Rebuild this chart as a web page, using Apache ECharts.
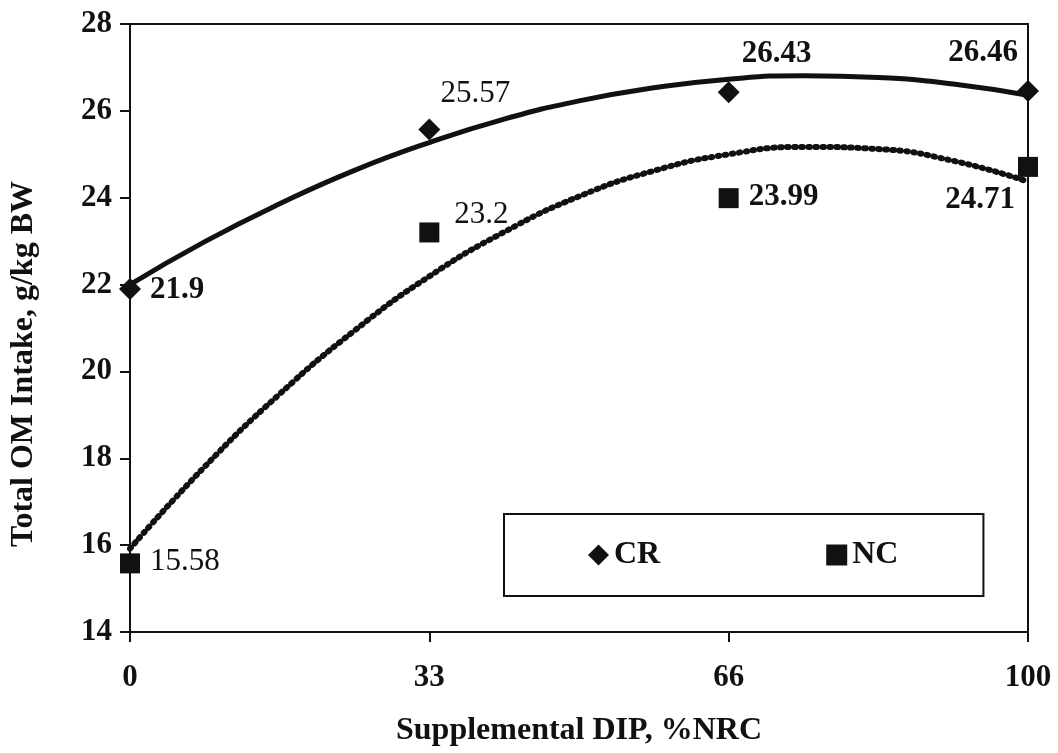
<!DOCTYPE html>
<html>
<head>
<meta charset="utf-8">
<script src="https://cdn.jsdelivr.net/npm/echarts@6/dist/echarts.min.js"></script>
<style>
    html, body { margin: 0; padding: 0; background: #fff; }
    #chart { width: 1058px; height: 753px; }
</style>
</head>
<body>
<div id="chart"></div>
<script>
// x positions are equally spaced categories (Excel style)
const xLabels = ['0', '33', '66', '100']
const crValues = [21.9, 25.57, 26.43, 26.46]
const ncValues = [15.58, 23.2, 23.99, 24.71]

// trend lines, at quarter steps between categories
const trendX = [0, 0.25, 0.5, 0.75, 1, 1.25, 1.5, 1.75, 2, 2.25, 2.5, 2.75, 3]
const crTrend = [22.0, 22.99, 23.86, 24.63, 25.27, 25.81, 26.23, 26.53, 26.73, 26.81, 26.77, 26.62, 26.36]
const ncTrend = [15.92, 17.81, 19.48, 20.94, 22.19, 23.21, 24.03, 24.62, 25.0, 25.17, 25.12, 24.85, 24.37]

const ink = '#111'
const serif = "'Liberation Serif', 'Times New Roman', serif"

// label placement per point (style only)
const crLabelPos = [
    { position: 'right', distance: 9, offset: [0, 1] },
    { position: 'top', distance: 5, offset: [46, -4] },
    { position: 'top', distance: 5, offset: [48, -7] },
    { position: 'top', distance: 5, offset: [-45, -6] }
]
const ncLabelPos = [
    { position: 'right', distance: 10, offset: [0, -2] },
    { position: 'right', distance: 5, offset: [10, -18] },
    { position: 'right', distance: 5, offset: [5, -1] },
    { position: 'bottom', distance: 5, offset: [-48, 3] }
]
const crWeight = ['bold', 'normal', 'bold', 'bold']
const ncWeight = ['normal', 'normal', 'bold', 'bold']

function points(values, pos, weight) {
    return values.map(function(v, i) {
        return {
            value: [i, v],
            label: {
                show: true,
                position: pos[i].position,
                distance: pos[i].distance,
                offset: pos[i].offset,
                formatter: String(v),
                fontSize: 31,
                fontWeight: weight[i],
                fontFamily: serif,
                color: ink,
                opacity: 1
            }
        }
    })
}

function zip(xs, ys) {
    return xs.map(function(x, i) { return [x, ys[i]] })
}

const option = {
    backgroundColor: '#fff',
    animation: false,
    grid: {
        left: 128,
        right: 30,
        top: 24,
        bottom: 121,
        show: true,
        borderColor: ink,
        borderWidth: 2
    },
    legend: {
        data: ['CR', 'NC'],
        left: 504,
        top: 514,
        orient: 'horizontal',
        padding: [25, 85, 25, 84],
        itemGap: 166,
        itemWidth: 21,
        itemHeight: 21,
        borderColor: ink,
        borderWidth: 2,
        textStyle: {
            fontSize: 32,
            fontWeight: 'bold',
            fontFamily: serif,
            color: ink,
            lineHeight: 32
        }
    },
    xAxis: {
        type: 'value',
        min: 0,
        max: 3,
        interval: 1,
        name: 'Supplemental DIP, %NRC',
        nameLocation: 'middle',
        nameGap: 83,
        nameTextStyle: {
            fontSize: 32,
            fontWeight: 'bold',
            fontFamily: serif,
            color: ink
        },
        axisLine: { lineStyle: { color: ink, width: 2 } },
        axisTick: { show: true, inside: false, length: 10, lineStyle: { color: ink, width: 2 } },
        axisLabel: {
            margin: 30,
            fontSize: 31,
            fontWeight: 'bold',
            fontFamily: serif,
            color: ink,
            formatter: function(v) {
                return xLabels[v]
            }
        },
        splitLine: { show: false }
    },
    yAxis: {
        type: 'value',
        min: 14,
        max: 28,
        interval: 2,
        name: 'Total OM Intake, g/kg BW',
        nameLocation: 'middle',
        nameGap: 90,
        nameTextStyle: {
            fontSize: 32,
            fontWeight: 'bold',
            fontFamily: serif,
            color: ink,
            padding: [0, 72, 0, 0]
        },
        axisLine: { show: true, lineStyle: { color: ink, width: 2 } },
        axisTick: { show: true, inside: false, length: 10, lineStyle: { color: ink, width: 2 } },
        axisLabel: {
            margin: 18,
            fontSize: 31,
            fontWeight: 'bold',
            fontFamily: serif,
            color: ink
        },
        splitLine: { show: false }
    },
    series: [
        {
            name: 'CR trend',
            type: 'line',
            data: zip(trendX, crTrend),
            smooth: true,
            showSymbol: false,
            silent: true,
            lineStyle: { color: ink, width: 5 },
            z: 2
        },
        {
            name: 'NC trend',
            type: 'line',
            data: zip(trendX, ncTrend),
            smooth: true,
            showSymbol: false,
            silent: true,
            lineStyle: { color: ink, width: 6, type: [1.5, 5.5], cap: 'round' },
            z: 2
        },
        {
            name: 'CR',
            type: 'scatter',
            symbol: 'diamond',
            symbolSize: 22,
            itemStyle: { color: ink, opacity: 1 },
            data: points(crValues, crLabelPos, crWeight),
            z: 3
        },
        {
            name: 'NC',
            type: 'scatter',
            symbol: 'rect',
            symbolSize: 20,
            itemStyle: { color: ink, opacity: 1 },
            data: points(ncValues, ncLabelPos, ncWeight),
            z: 3
        }
    ]
}

var myChart = echarts.init(document.getElementById('chart'))
myChart.setOption(option)
</script>
</body>
</html>
